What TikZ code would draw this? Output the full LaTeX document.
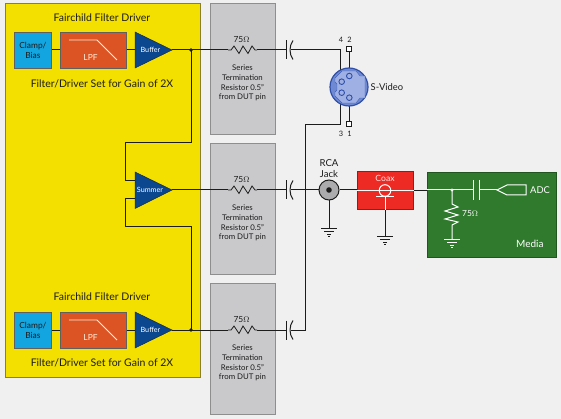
\documentclass[tikz,border=0pt]{standalone}
\usepackage{fontspec}
\setmainfont{Lato}
\usetikzlibrary{calc}
\definecolor{bgc}{HTML}{F0F0F0}
\definecolor{yel}{HTML}{F3E000}
\definecolor{yelb}{HTML}{8A8030}
\definecolor{grayf}{HTML}{C9C9CC}
\definecolor{grayb}{HTML}{8E8E8E}
\definecolor{cyanf}{HTML}{12A5E0}
\definecolor{orangef}{HTML}{DC5423}
\definecolor{navy}{HTML}{0B478F}
\definecolor{redf}{HTML}{EE2A24}
\definecolor{greenf}{HTML}{2F7A2C}
\definecolor{svb}{HTML}{2F4FA8}
\definecolor{svf}{HTML}{6F8AD2}
\definecolor{svi}{HTML}{9FB0E4}
\definecolor{ink}{HTML}{1C1C1C}
\tikzset{
  x=1pt,y=-1pt,
  wire/.style={draw=ink,line width=1pt},
  wwire/.style={draw=white,line width=1pt},
  label/.style={font=\fontsize{10.5}{11}\selectfont,text=ink,inner sep=0pt},
  small/.style={font=\fontsize{7.8}{9.7}\selectfont,text=#1,inner sep=0pt,align=center},
  small/.default=ink,
  block/.style={anchor=north west,inner sep=0pt,line width=.8pt},
  termbox/.style={block,draw=grayb,fill=grayf,minimum width=65pt,minimum height=131pt,line width=1pt},
  clampbox/.style={block,draw=ink!70,fill=cyanf,minimum width=37pt,minimum height=36pt},
  lpfbox/.style={block,draw=ink!70,fill=orangef,minimum width=66pt,minimum height=36pt},
  pinbox/.style={draw=ink,fill=white,minimum size=4.5pt,inner sep=0pt,line width=1pt},
  pics/gnd/.style={code={
    \draw[draw=#1,line width=.9pt] (-8,0)--(8,0) (-5,3)--(5,3) (-2,6)--(2,6) ;
    \fill[#1] (-.7,8.2) rectangle (.7,9.4);}},
  pics/resh/.style={code={
    \draw[wire,line width=.8pt] (0,0)--(3,0)--(6,-4)--(11,3.5)--(15,-4)--(20,3.5)--(24,-4)--(27,0)--(29,0);}},
  pics/capac/.style={code={
    \draw[draw=#1,line width=1pt] (0,-9.5)--(0,9.5);
    \draw[draw=#1,line width=1pt] (7,-9.5) .. controls (3,-4) and (3,4) .. (7,9.5);}},
}
\newcommand{\driver}[2]{%
  \node[clampbox] (cl#1) at (14,#2-18) {};
  \node[small,font=\fontsize{8.4}{10.2}\selectfont] at (cl#1.center) {Clamp/\\Bias};
  \node[lpfbox] (lp#1) at (60,#2-18) {};
  \draw[draw=white!85!orange,line width=.9pt] (69,#2-10)--(97,#2-10)--(117,#2+10);
  \node[small=white!85!orange,font=\fontsize{8.4}{9}\selectfont] at (90.5,#2+7) {LPF};
  \coordinate (bi#1) at (135,#2);
  \coordinate (bo#1) at (172,#2);
  \draw[wire] (cl#1.east|-bi#1)--(lp#1.west|-bi#1) (lp#1.east|-bi#1)--(bi#1);
  \fill[navy,draw=ink!60!navy,line width=.5pt] (135,#2-18)--(135,#2+18)--(bo#1)--cycle;
  \node[small=white,font=\fontsize{7.2}{8}\selectfont] at (150.5,#2-.5) {Buffer};
}
\newcommand{\termination}[3]{%
  \node[termbox] (tb#1) at (210,#2) {};
  \node[small] at (242.5,#2+80) {Series\\Termination\\Resistor 0.5"\\from DUT pin};
  \node[label,font=\fontsize{8.4}{9}\selectfont] at (241.5,#3-10) {75$\Omega$};
  \pic at (228,#3) {resh};
  \coordinate (ri#1) at (228,#3);
  \coordinate (ro#1) at (257,#3);
  \pic at (286,#3) {capac=ink};
  \coordinate (cl#1) at (286,#3);
  \coordinate (cr#1) at (291,#3);
  \draw[wire] (ro#1)--(cl#1);
}
\begin{document}
\begin{tikzpicture}
\useasboundingbox (0,0) rectangle (561,419);
\fill[bgc] (0,0) rectangle (561,419);
% yellow panel
\node[block,draw=yelb,fill=yel,minimum width=195.5pt,minimum height=373.5pt,line width=1pt] (panel) at (4.5,3) {};
\node[label] at (102,18) {Fairchild Filter Driver};
\node[label] at (102,83.5) {Filter/Driver Set for Gain of 2X};
\node[label] at (102,297) {Fairchild Filter Driver};
\node[label] at (102,362.5) {Filter/Driver Set for Gain of 2X};
\driver{A}{50}
\driver{B}{330}
% summer
\coordinate (si1) at (135,181);
\coordinate (si2) at (135,199);
\coordinate (so) at (172,190);
\coordinate (ta) at (191,50);
\coordinate (tb) at (191,330);
\coordinate (ma) at (125,143);
\coordinate (mb) at (125,227);
\draw[wire] (ta)--(ta|-ma)--(ma)--(ma|-si1)--(si1);
\draw[wire] (si2)--(mb|-si2)--(mb)--(tb|-mb)--(tb);
\fill[navy,draw=ink!60!navy,line width=.5pt] (135,172)--(135,208.5)--(so)--cycle;
\node[small=white,font=\fontsize{7.2}{8}\selectfont] at (150,190) {Summer};
% terminations
\termination{A}{3}{50}
\termination{M}{143}{190}
\termination{B}{283}{330}
\draw[wire] (boA)--(riA);
\draw[wire] (so)--(riM);
\draw[wire] (boB)--(riB);
\fill[ink] (ta) circle (1.8);
\fill[ink] (tb) circle (1.8);
% s-video
\coordinate (sv) at (349,87);
\coordinate (a1) at (340,76);
\coordinate (a2) at (340,98);
\coordinate (vt) at (305,125);
\draw[wire] (crA)--(a1|-crA)--(a1);
\draw[wire] (a2)--(a1|-vt)--(vt)--(vt|-crB)--(crB);
\node[pinbox] (p2) at (349,49) {};
\node[pinbox] (p1) at (349,124) {};
\draw[wire] (p2)--(sv) (p1)--(sv);
\fill[svf,draw=svb,line width=1.2pt] (sv) circle (19);
\fill[svi,draw=svb!70!svf,line width=.4pt] (335,82)--(335,78)--(342,71)--(356,71)--(360,76)--(365,76)--(365,98)--(360,98)--(356,103)--(342,103)--(335,96)--(335,92)--(337,90)--(337,84)--cycle;
\draw[svb,line width=.9pt,fill=svi] (341.7,81.7) circle (2.8) (341.7,92.7) circle (2.8) (349.3,76) circle (2.8) (349.3,97.7) circle (2.8);
\node[small,font=\fontsize{7.4}{8}\selectfont] at (341,40) {4};
\node[small,font=\fontsize{7.4}{8}\selectfont] at (349.5,40) {2};
\node[small,font=\fontsize{7.4}{8}\selectfont] at (341,133.5) {3};
\node[small,font=\fontsize{7.4}{8}\selectfont] at (349.5,133.5) {1};
\node[label,font=\fontsize{9.4}{10}\selectfont,anchor=west] at (370.5,87) {S-Video};
% RCA
\node[draw=ink,fill=grayf!85!black,circle,minimum size=20pt,inner sep=0pt,line width=1pt] (rca) at (329,190) {};
\fill[ink] (rca) circle (2.8);
\node[label,align=center,font=\fontsize{9.6}{11}\selectfont] at (329,168.5) {RCA\\Jack};
\coordinate (rg) at (329,228);
\draw[wire] (crM)--(rca);
\draw[wire] (rca)--(rg);
\pic at (rg) {gnd=ink};
% coax
\node[block,draw=ink!50!redf,fill=redf,minimum width=56pt,minimum height=38pt] (coax) at (357,171) {};
\node[small=white!90!red,font=\fontsize{8.6}{9}\selectfont] at (385,178.5) {Coax};
\coordinate (cg) at (385,236);
\coordinate (cc) at (385,190.5);
\draw[wire] (rca)--(rca-|coax.west);
\draw[wire] (coax.south-|cg)--(cg);
\pic at (cg) {gnd=ink};
\draw[draw=white,line width=1pt,fill=redf] (cc) circle (5.8);
\draw[wwire] (coax.west|-cc)--(coax.east|-cc);
\draw[wwire] (376,196.5)--(394,196.5) (385,196.5)--(coax.south-|cg);
% media
\node[block,draw=greenf!70!black,fill=greenf,minimum width=129pt,minimum height=85pt] (media) at (427,172) {};
\draw[wire] (coax.east|-cc)--(media.west|-cc);
\coordinate (jn) at (452,190);
\coordinate (mc1) at (473,190);
\coordinate (mc2) at (479,190);
\coordinate (ad) at (497,190);
\draw[wwire] (media.west|-jn)--(mc1) (mc2)--(ad);
\draw[wwire] (mc1)+(0,-10)--+(0,10) (mc2)+(0,-10)--+(0,10);
\draw[wwire,line join=miter] (ad)--(507,185)--(526,185)--(526,195)--(507,195)--cycle;
\fill[white] (jn) circle (1.7);
\coordinate (mg) at (452,239);
\draw[wwire] (jn)--(452,204)--(458,207)--(445,211)--(458,215)--(445,219)--(458,222)--(452,225)--(mg);
\pic at (mg) {gnd=white};
\node[small=white,font=\fontsize{8.4}{9}\selectfont,anchor=west] at (462,214) {75$\Omega$};
\node[small=white,font=\fontsize{9.4}{10}\selectfont,anchor=west] at (530,190) {ADC};
\node[small=white,font=\fontsize{10}{10}\selectfont,anchor=west] at (516,243.5) {Media};
\end{tikzpicture}
\end{document}
